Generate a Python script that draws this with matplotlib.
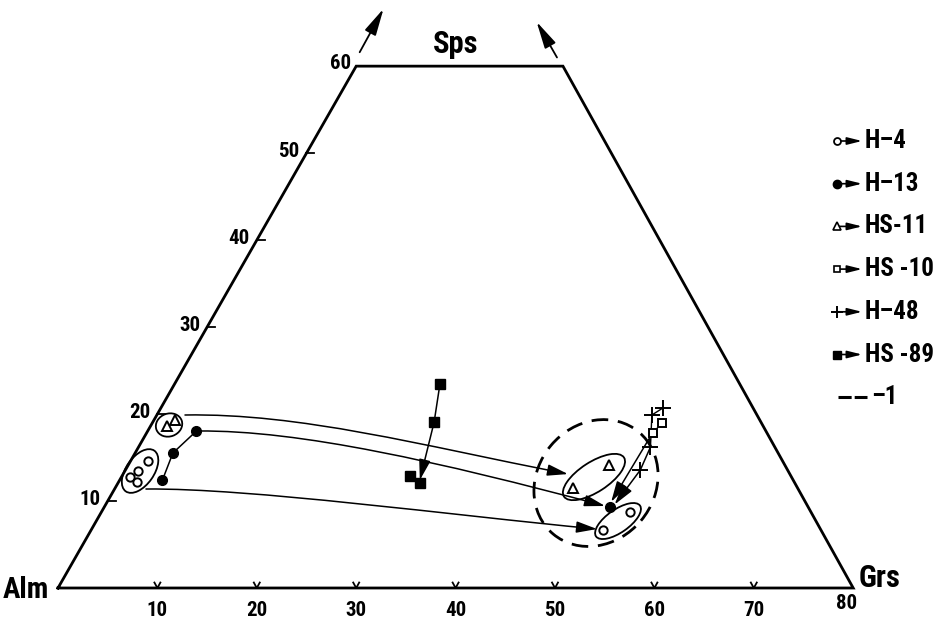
import numpy as np
import matplotlib.pyplot as plt
from matplotlib import font_manager
from matplotlib.patches import Ellipse, FancyArrowPatch
from matplotlib.path import Path

# pick a narrow face if one is installed
names = {f.name for f in font_manager.fontManager.ttflist}
narrow = [n for n in ['Liberation Sans Narrow', 'DejaVu Sans Condensed',
                      'Roboto Condensed', 'Open Sans Condensed',
                      'Noto Sans Condensed', 'Lato', 'Roboto'] if n in names]
plt.rcParams['font.family'] = narrow[:1] + ['DejaVu Sans']
plt.rcParams['font.weight'] = 'bold'
plt.rcParams['font.stretch'] = 'condensed'

# garnet compositions: Grs and Sps (Alm is the rest)
h4_grs = [1.75, 1.33, 0.86, 1.86, 51.5, 53.2]
h4_sps = [14.6, 13.45, 12.76, 12.18, 6.67, 8.74]
h13_grs = [4.3, 3.8, 4.9, 50.9]
h13_sps = [12.41, 15.52, 18.05, 9.31]
hs11_grs = [2.1, 1.7, 46.1, 48.4]
hs11_sps = [19.31, 18.62, 11.49, 14.14]
hs10_grs = [51.3, 50.9]
hs10_sps = [18.97, 17.82]
h48_grs = [50.5, 49.8, 51.5, 51.8]
h48_sps = [20.69, 19.89, 16.21, 13.56]
hs89_grs = [26.7, 28.3, 30.4, 29.0]
hs89_sps = [23.45, 19.08, 12.07, 12.87]

grs_ticks = [10, 20, 30, 40, 50, 60, 70]
sps_ticks = [10, 20, 30, 40, 50]

# trend curves (Grs, Sps): start, two control points, end
curve_hs11 = [(2.83, 19.89), (14.29, 20.11), (28.2, 16.44), (44.76, 13.10)]
curve_h13 = [(5.06, 18.05), (15.27, 18.16), (31.19, 14.48), (50.32, 9.43)]
curve_h4 = [(3.16, 11.38), (13.57, 11.49), (35.24, 8.39), (50.84, 6.78)]
line_hs10 = [(50.9, 17.82), (50.7, 9.9)]
line_h48 = [(51.5, 16.21), (51.8, 13.56), (51.2, 9.6)]
line_hs89 = [(26.7, 23.45), (28.3, 19.08), (30.2, 12.4)]
line_h13_left = [(4.3, 12.41), (3.8, 15.52), (4.9, 18.05)]

# outline of the truncated triangle (Grs, Sps)
frame_grs = [0, 80, 20.8, 0, 0]
frame_sps = [0, 0, 60, 60, 0]

# groups: centre (Grs, Sps), width, height, angle
groups = [((1.80, 18.74), 2.7, 2.3, 20),
          ((1.53, 13.45), 5.0, 2.8, 55),
          ((47.54, 12.76), 7.2, 3.0, 33),
          ((52.49, 7.70), 5.4, 2.3, 35)]
field_1 = ((48.09, 12.07), 13.4, 11.8, 50)

legend_names = ['H–4', 'H–13', 'HS-11', 'HS -10', 'H–48', 'HS -89', '–1']


def tern(g, s):
    g = np.asarray(g, float)
    s = np.asarray(s, float)
    return g + s / 2, s * 0.875


fig = plt.figure(figsize=(9.45, 6.19), dpi=100)
ax = fig.add_axes([0, 0, 1, 1])
ax.set_xlim(-58 / 9.94, (945 - 58) / 9.94)
ax.set_ylim(-(619 - 588) / 9.94, 588 / 9.94)
ax.set_aspect('equal')
ax.axis('off')

fx, fy = tern(frame_grs, frame_sps)
ax.plot(fx, fy, color='k', lw=2.0, solid_joinstyle='miter')

# arrows off the top corners
for a, b in [((-0.45, 61.6), (-0.55, 66.6)), ((19.7, 61.0), (15.6, 65.1))]:
    xa, ya = tern(*a)
    xb, yb = tern(*b)
    ax.annotate('', xy=(xb, yb), xytext=(xa, ya),
                arrowprops=dict(arrowstyle='-|>,head_length=1.1,head_width=0.25',
                                lw=1.3, color='k', shrinkA=0, shrinkB=0,
                                mutation_scale=15))

# bottom ticks (small v) and labels
for g in grs_ticks:
    x, y = tern(g, 0)
    ax.plot([x - 0.3, x, x + 0.3], [y + 0.55, y, y + 0.55], color='k', lw=1.3)
    ax.annotate(str(g), (x, y), xytext=(0, -16), textcoords='offset points',
                ha='center', va='center', fontsize=15)
x, y = tern(80, 0)
ax.annotate('80', (x, y), xytext=(-5, -11), textcoords='offset points',
            ha='center', va='center', fontsize=15)

# left ticks and labels
for s in sps_ticks:
    x, y = tern(0, s)
    ax.plot([x, x + 0.8], [y, y], color='k', lw=1.3)
    ax.annotate(str(s), (x, y), xytext=(-5, 1), textcoords='offset points',
                ha='right', va='center', fontsize=15)
x, y = tern(0, 60)
ax.annotate('60', (x, y), xytext=(-4, 2), textcoords='offset points',
            ha='right', va='center', fontsize=15)

ax.text(3 / 945, 1 - 590 / 619, 'Alm', transform=fig.transFigure,
        ha='left', va='center', fontsize=21)
ax.text(859 / 945, 1 - 578 / 619, 'Grs', transform=fig.transFigure,
        ha='left', va='center', fontsize=22)
ax.text(456 / 945, 1 - 44 / 619, 'Sps', transform=fig.transFigure,
        ha='center', va='center', fontsize=22)


def arrow_path(pts, curved):
    x, y = tern(*zip(*pts))
    verts = np.column_stack([x, y])
    if curved:
        codes = [Path.MOVETO, Path.CURVE4, Path.CURVE4, Path.CURVE4]
    else:
        codes = [Path.MOVETO] + [Path.LINETO] * (len(pts) - 1)
    p = FancyArrowPatch(path=Path(verts, codes),
                        arrowstyle='-|>,head_length=0.9,head_width=0.25',
                        mutation_scale=14, lw=1.1, color='k', zorder=2)
    ax.add_patch(p)


arrow_path(curve_hs11, True)
arrow_path(curve_h13, True)
arrow_path(curve_h4, True)
arrow_path(line_hs10, False)
arrow_path(line_h48, False)
arrow_path(line_hs89, False)

lx, ly = tern(*zip(*line_h13_left))
ax.plot(lx, ly, color='k', lw=1.1, zorder=2)
lx, ly = tern(h48_grs[:3], h48_sps[:3])
ax.plot(lx, ly, color='k', lw=1.0, zorder=2)
lx, ly = tern(hs10_grs, hs10_sps)
ax.plot(lx, ly, color='k', lw=1.0, zorder=2)

for (c, w, h, ang) in groups:
    cx, cy = tern(*c)
    ax.add_patch(Ellipse((cx, cy), w, h, angle=ang, fill=False, lw=1.3,
                         ec='k', zorder=3))
(c, w, h, ang) = field_1
cx, cy = tern(*c)
ax.add_patch(Ellipse((cx, cy), w, h, angle=ang, fill=False, lw=2.0, ec='k',
                     ls=(0, (6, 3.5)), zorder=3))

# samples
ax.plot(*tern(h4_grs, h4_sps), 'o', mfc='white', mec='k', ms=6, mew=1.4, ls='none', zorder=5)
ax.plot(*tern(h13_grs, h13_sps), 'o', color='k', ms=7, ls='none', zorder=5)
ax.plot(*tern(hs11_grs, hs11_sps), '^', mfc='white', mec='k', ms=7, mew=1.4, ls='none', zorder=5)
ax.plot(*tern(hs10_grs, hs10_sps), 's', mfc='white', mec='k', ms=6, mew=1.4, ls='none', zorder=5)
ax.plot(*tern(h48_grs, h48_sps), '+', color='k', ms=11, mew=1.4, ls='none', zorder=5)
ax.plot(*tern(hs89_grs, hs89_sps), 's', color='k', ms=7, ls='none', zorder=5)

# legend drawn by hand, as in the figure
leg_markers = [dict(marker='o', mfc='white', mec='k', ms=5, mew=1.3),
               dict(marker='o', mfc='k', mec='k', ms=6),
               dict(marker='^', mfc='white', mec='k', ms=6, mew=1.2),
               dict(marker='s', mfc='white', mec='k', ms=5, mew=1.2),
               dict(marker='+', mfc='k', mec='k', ms=9, mew=1.4),
               dict(marker='s', mfc='k', mec='k', ms=6)]
for i, name in enumerate(legend_names):
    yy = 1 - (141 + i * 42.7) / 619
    if i < 6:
        ax.annotate('', xy=(862 / 945, yy), xytext=(837 / 945, yy),
                    xycoords='figure fraction', textcoords='figure fraction',
                    arrowprops=dict(arrowstyle='-|>,head_length=0.8,head_width=0.2',
                                    lw=1.2, color='k', shrinkA=0, shrinkB=0,
                                    mutation_scale=11))
        ax.plot([837 / 945], [yy], transform=fig.transFigure, ls='none', zorder=6,
                **leg_markers[i])
        ax.text(865 / 945, yy, name, transform=fig.transFigure, ha='left',
                va='center', fontsize=18)
    else:
        ax.plot([838 / 945, 867 / 945], [yy, yy], transform=fig.transFigure,
                color='k', lw=2.2, ls=(0, (4.3, 1.0)), dash_capstyle='butt')
        ax.text(871 / 945, yy, name, transform=fig.transFigure, ha='left',
                va='center', fontsize=18)

fig.savefig('out.png', dpi=100)
